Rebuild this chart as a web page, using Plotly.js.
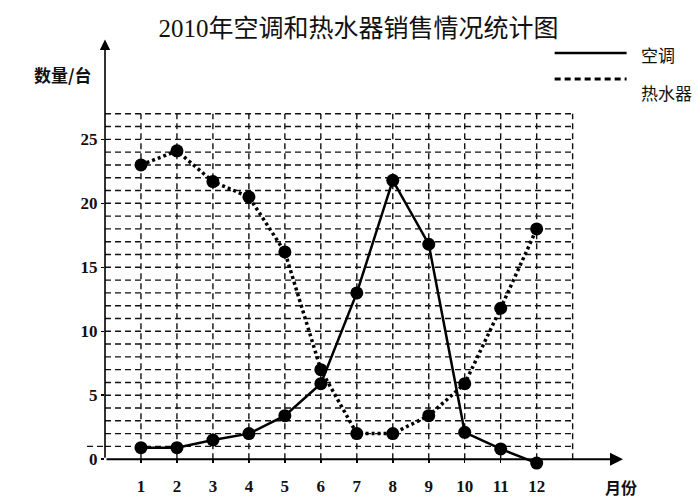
<!DOCTYPE html>
<html>
<head>
<meta charset="utf-8">
<script src="https://cdn.plot.ly/plotly-3.0.1.min.js"></script>
<style>html,body{margin:0;padding:0;background:#fff;}#chart{width:700px;height:503px;}</style>
</head>
<body>
<div id="chart"></div>
<script>
// ---- data ----
const months = [1,2,3,4,5,6,7,8,9,10,11,12];
const monthLabels = ['1','2','3','4','5','6','7','8','9','10','11','12'];
const acSales = [0.9, 0.9, 1.5, 2, 3.4, 5.9, 13, 21.8, 16.8, 2.1, 0.8, -0.3];
const heaterSales = [23, 24.1, 21.7, 20.5, 16.2, 7, 2, 2, 3.4, 5.9, 11.8, 18];
const yTickVals = [0,5,10,15,20,25];
const yTickLabels = ['0','5','10','15','20','25'];
const titleText = '2010年空调和热水器销售情况统计图';
const seriesNames = ['空调','热水器'];
const yAxisName = '数量/台';
const xAxisName = '月份';

// ---- layout geometry ----
const UNIT = 12.8;            // px per unit on y
const Y0PX = 459.5;           // pixel row of y = 0
const XR = [0, 14.4], YR = [-1, 33];
const L = 105, PW = 518.4;
const T = Y0PX - YR[1] * UNIT;
const PH = (YR[1] - YR[0]) * UNIT;
const px = x => (x - L) / PW;            // pixel -> paper x
const py = y => (T + PH - y) / PH;       // pixel -> paper y
const gridTopY = 27, gridRightX = 13;

const serif = 'Liberation Serif, Times New Roman, serif';
const cjk = 'Noto Sans CJK SC, sans-serif';

const traces = [
  {
    x: months, y: acSales, name: seriesNames[0], type: 'scatter', mode: 'lines+markers',
    line: {color: '#000', width: 2.5},
    marker: {color: '#000', size: 13},
    cliponaxis: false, showlegend: false
  },
  {
    x: months, y: heaterSales, name: seriesNames[1], type: 'scatter', mode: 'lines+markers',
    line: {color: '#000', width: 3.5, dash: '3px,3px'},
    marker: {color: '#000', size: 13},
    cliponaxis: false, showlegend: false
  }
];

const gridLine = {color: '#111', width: 1.4, dash: '6px,4px'};
const shapes = [];
for (let i = 1; i <= gridTopY; i++) {
  shapes.push({type: 'line', xref: 'x', yref: 'y', x0: 0, x1: gridRightX, y0: i, y1: i, line: gridLine, layer: 'below'});
}
for (let j = 1; j <= gridRightX; j++) {
  shapes.push({type: 'line', xref: 'x', yref: 'y', x0: j, x1: j, y0: 0, y1: gridTopY, line: gridLine, layer: 'below'});
}
// small stub of the y=1 grid line left of the axis
shapes.push({type: 'line', xref: 'paper', yref: 'paper', x0: px(87), x1: px(105), y0: py(Y0PX - UNIT), y1: py(Y0PX - UNIT), line: gridLine});
// legend samples
shapes.push({type: 'line', xref: 'paper', yref: 'paper', x0: px(555), x1: px(627), y0: py(53), y1: py(53), line: {color: '#000', width: 2.5}});
shapes.push({type: 'line', xref: 'paper', yref: 'paper', x0: px(555), x1: px(627), y0: py(79), y1: py(79), line: {color: '#000', width: 3, dash: '6px,4px'}});

const annotations = [
  // axis arrows
  {x: XR[1], y: 0, ax: 0, ay: 0, axref: 'x', ayref: 'y', xref: 'x', yref: 'y', text: '', showarrow: true,
   arrowhead: 2, arrowsize: 1.3, arrowwidth: 2, arrowcolor: '#000'},
  {x: 0, y: 32.8, ax: 0, ay: 0, axref: 'x', ayref: 'y', xref: 'x', yref: 'y', text: '', showarrow: true,
   arrowhead: 2, arrowsize: 1.3, arrowwidth: 1.6, arrowcolor: '#000'},
  // axis names
  {xref: 'paper', yref: 'paper', x: px(63), y: py(75), text: yAxisName, showarrow: false,
   font: {family: cjk, size: 17, color: '#111', weight: 'bold'}, xanchor: 'center', yanchor: 'middle'},
  {xref: 'paper', yref: 'paper', x: px(621), y: py(487), text: xAxisName, showarrow: false,
   font: {family: cjk, size: 16, color: '#111', weight: 'bold'}, xanchor: 'center', yanchor: 'middle'},
  // legend texts
  {xref: 'paper', yref: 'paper', x: px(639), y: py(55), text: seriesNames[0], showarrow: false,
   font: {family: cjk, size: 17, color: '#111'}, xanchor: 'left', yanchor: 'middle'},
  {xref: 'paper', yref: 'paper', x: px(639), y: py(93), text: seriesNames[1], showarrow: false,
   font: {family: cjk, size: 17, color: '#111'}, xanchor: 'left', yanchor: 'middle'}
];

const layout = {
  width: 700, height: 503,
  margin: {l: L, r: 700 - L - PW, t: T, b: 503 - T - PH},
  paper_bgcolor: '#fff', plot_bgcolor: '#fff',
  title: {text: titleText, x: 358.5 / 700, xanchor: 'center', y: 1 - 28 / 503, yanchor: 'middle',
          font: {family: 'Liberation Serif, ' + cjk, size: 25, color: '#111'}},
  xaxis: {range: XR, showgrid: false, zeroline: false, showline: false,
          anchor: 'free', position: (0 - YR[0]) / (YR[1] - YR[0]),
          tickmode: 'array', tickvals: months, ticktext: monthLabels,
          ticks: 'outside', ticklen: 3, tickwidth: 1.5, tickcolor: '#000',
          ticklabelstandoff: 8,
          tickfont: {family: serif, size: 17, color: '#111', weight: 'bold'}},
  yaxis: {range: YR, showgrid: false, zeroline: false, showline: false,
          tickmode: 'array', tickvals: yTickVals, ticktext: yTickLabels,
          ticks: 'outside', ticklen: 3, tickwidth: 1.5, tickcolor: '#000',
          tickfont: {family: serif, size: 17, color: '#111', weight: 'bold'}},
  shapes: shapes,
  annotations: annotations,
  showlegend: false
};

Plotly.newPlot('chart', traces, layout, {displayModeBar: false, staticPlot: true});
</script>
</body>
</html>
